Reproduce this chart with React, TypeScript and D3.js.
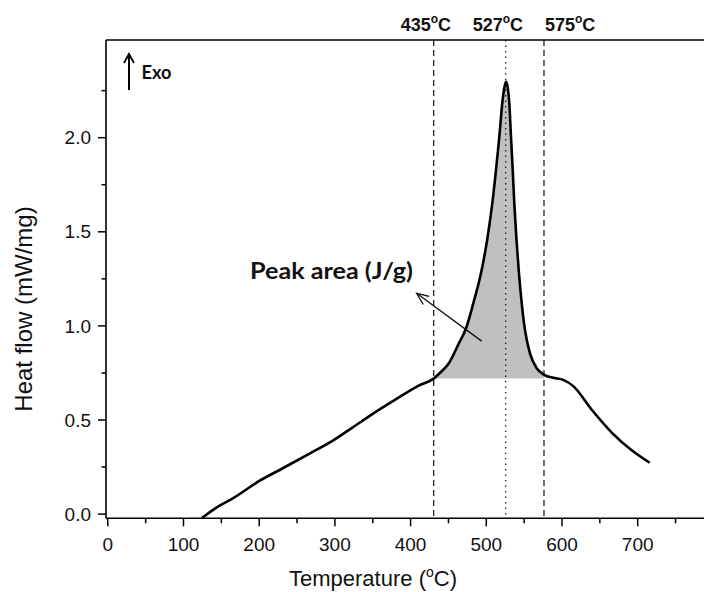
import React from "react";
import * as d3 from "d3";

const temperature = [124, 143.9, 165.8, 200.1, 231.8, 267.1, 297.9, 322.6, 349, 379.8, 410.7, 430.5, 440, 450.3, 463.5, 473.5, 482.8, 493.9, 501.8, 507.9, 512.8, 517.2, 521.1, 523.8, 526.0, 528.4, 530.4, 532.6, 534.9, 537.0, 539.6, 542.8, 546.8, 551.1, 557.7, 566.6, 576.5, 588.5, 601.7, 614.9, 639.6, 666, 692.5, 715.9];
const heatFlow = [-0.022, 0.036, 0.085, 0.176, 0.245, 0.323, 0.392, 0.458, 0.53, 0.608, 0.683, 0.72, 0.755, 0.8, 0.905, 0.99, 1.12, 1.297, 1.474, 1.651, 1.828, 2.005, 2.183, 2.265, 2.298, 2.262, 2.183, 2.005, 1.828, 1.651, 1.474, 1.297, 1.12, 0.978, 0.854, 0.775, 0.74, 0.724, 0.713, 0.68, 0.553, 0.432, 0.338, 0.273];

const peakStart = 430.5;
const peakEnd = 576.5;
const peakBaseline = 0.72;

const markerTemps = [430.5, 525.6, 576.2];
const markerStyles = ["dashed", "dotted", "dashed"];
const markerLabels = ["435", "527", "575"];

const xMajorTicks = [0, 100, 200, 300, 400, 500, 600, 700];
const xMinorTicks = [50, 150, 250, 350, 450, 550, 650, 750];
const yMajorTicks = [0, 0.5, 1.0, 1.5, 2.0];
const yMinorTicks = [0.25, 0.75, 1.25, 1.75, 2.25];

const W = 704;
const H = 592;
const plotTop = 40;
const plotBottom = 518.3;
const plotLeft = 106;

export default function App() {
  const x = d3.scaleLinear().domain([0, 800]).range([107.8, 713.4]);
  const y = d3.scaleLinear().domain([0, 2.5]).range([514.1, 43.6]);

  const pts: [number, number][] = temperature.map((t, i) => [t, heatFlow[i]]);
  const line = d3
    .line<[number, number]>()
    .x((d) => x(d[0]))
    .y((d) => y(d[1]))
    .curve(d3.curveMonotoneX);
  const peakPts = pts.filter((d) => d[0] >= peakStart && d[0] <= peakEnd);
  const area = d3
    .area<[number, number]>()
    .x((d) => x(d[0]))
    .y0(y(peakBaseline))
    .y1((d) => y(d[1]))
    .curve(d3.curveMonotoneX);

  const sans = "'Liberation Sans', Arial, sans-serif";
  const bold2 = "Lato, 'Open Sans', sans-serif";
  const labelOffsets = [-33, -33, 1];

  // annotation arrow (Peak area)
  const arrFrom: [number, number] = [493.9, 0.919];
  const arrTo: [number, number] = [407.9, 1.173];
  const ax1 = x(arrFrom[0]);
  const ay1 = y(arrFrom[1]);
  const ax2 = x(arrTo[0]);
  const ay2 = y(arrTo[1]);
  const ang = Math.atan2(ay2 - ay1, ax2 - ax1);
  const hl = 13;
  const hw = 0.4;
  const h1 = [ax2 - hl * Math.cos(ang - hw), ay2 - hl * Math.sin(ang - hw)];
  const h2 = [ax2 - hl * Math.cos(ang + hw), ay2 - hl * Math.sin(ang + hw)];

  const exoX = x(28);
  const exoY1 = y(2.253);
  const exoY2 = y(2.445);

  return (
    <svg
      width={W}
      height={H}
      style={{ position: "absolute", left: 0, top: 0, background: "#fff" }}
    >
      <rect x={0} y={0} width={W} height={H} fill="#fff" />
      {/* peak fill */}
      <path d={area(peakPts) || ""} fill="#c0c0c0" stroke="none" />
      {/* marker lines */}
      {markerTemps.map((t, i) => (
        <line
          key={"m" + i}
          x1={x(t)}
          x2={x(t)}
          y1={plotTop}
          y2={plotBottom}
          stroke="#222"
          strokeWidth={1.3}
          strokeDasharray={markerStyles[i] === "dashed" ? "6,4" : "1.5,4"}
        />
      ))}
      {/* curve */}
      <path d={line(pts) || ""} fill="none" stroke="#000" strokeWidth={2.6} strokeLinejoin="round" />
      {/* frame */}
      <line x1={plotLeft} x2={W} y1={plotTop} y2={plotTop} stroke="#000" strokeWidth={1.6} />
      <line x1={plotLeft} x2={plotLeft} y1={plotTop} y2={plotBottom} stroke="#000" strokeWidth={1.6} />
      <line x1={plotLeft} x2={W} y1={plotBottom} y2={plotBottom} stroke="#000" strokeWidth={1.6} />
      {/* x ticks */}
      {xMajorTicks.map((t) => (
        <g key={"xt" + t}>
          <line x1={x(t)} x2={x(t)} y1={plotBottom} y2={plotBottom + 8} stroke="#000" strokeWidth={1.5} />
          <text x={x(t)} y={551} textAnchor="middle" fontFamily={sans} fontSize={19} fill="#111">
            {t}
          </text>
        </g>
      ))}
      {xMinorTicks.map((t) => (
        <line key={"xm" + t} x1={x(t)} x2={x(t)} y1={plotBottom} y2={plotBottom + 5} stroke="#000" strokeWidth={1.5} />
      ))}
      {/* y ticks */}
      {yMajorTicks.map((t) => (
        <g key={"yt" + t}>
          <line x1={plotLeft - 8} x2={plotLeft} y1={y(t)} y2={y(t)} stroke="#000" strokeWidth={1.5} />
          <text
            x={91}
            y={y(t)}
            dy="0.35em"
            textAnchor="end"
            fontFamily={sans}
            fontSize={19}
            fill="#111"
          >
            {t.toFixed(1)}
          </text>
        </g>
      ))}
      {yMinorTicks.map((t) => (
        <line key={"ym" + t} x1={plotLeft - 4.5} x2={plotLeft} y1={y(t)} y2={y(t)} stroke="#000" strokeWidth={1.5} />
      ))}
      {/* axis titles */}
      <text x={373} y={586} textAnchor="middle" fontFamily={sans} fontSize={22} fill="#111">
        Temperature (
        <tspan fontSize={14} dy={-9}>o</tspan>
        <tspan dy={9}>C)</tspan>
      </text>
      <text
        transform={`translate(32,309) rotate(-90)`}
        textAnchor="middle"
        fontFamily={sans}
        fontSize={24}
        fill="#111"
      >
        Heat flow (mW/mg)
      </text>
      {/* marker labels */}
      {markerTemps.map((t, i) => (
        <text
          key={"ml" + i}
          x={x(t) + labelOffsets[i]}
          y={31}
          fontFamily={sans}
          fontWeight="bold"
          fontSize={18}
          fill="#111"
        >
          {markerLabels[i]}
          <tspan fontSize={12} dy={-8}>o</tspan>
          <tspan dy={8}>C</tspan>
        </text>
      ))}
      {/* Exo arrow */}
      <line x1={exoX} x2={exoX} y1={exoY1} y2={exoY2 + 2} stroke="#000" strokeWidth={2} />
      <path
        d={`M${exoX - 5},${exoY2 + 9} L${exoX},${exoY2} L${exoX + 5},${exoY2 + 9}`}
        fill="none"
        stroke="#000"
        strokeWidth={1.8}
      />
      <text x={141.5} y={79} fontFamily={bold2} fontWeight="bold" fontSize={18} fill="#111" textLength={30} lengthAdjust="spacingAndGlyphs">
        Exo
      </text>
      {/* Peak area annotation */}
      <text x={250} y={279} fontFamily={bold2} fontWeight="bold" fontSize={22} fill="#111" textLength={163} lengthAdjust="spacingAndGlyphs">
        Peak area (J/g)
      </text>
      <line x1={ax1} y1={ay1} x2={ax2} y2={ay2} stroke="#111" strokeWidth={1.3} />
      <path d={`M${h1[0]},${h1[1]} L${ax2},${ay2} L${h2[0]},${h2[1]}`} fill="none" stroke="#111" strokeWidth={1.3} />
    </svg>
  );
}
